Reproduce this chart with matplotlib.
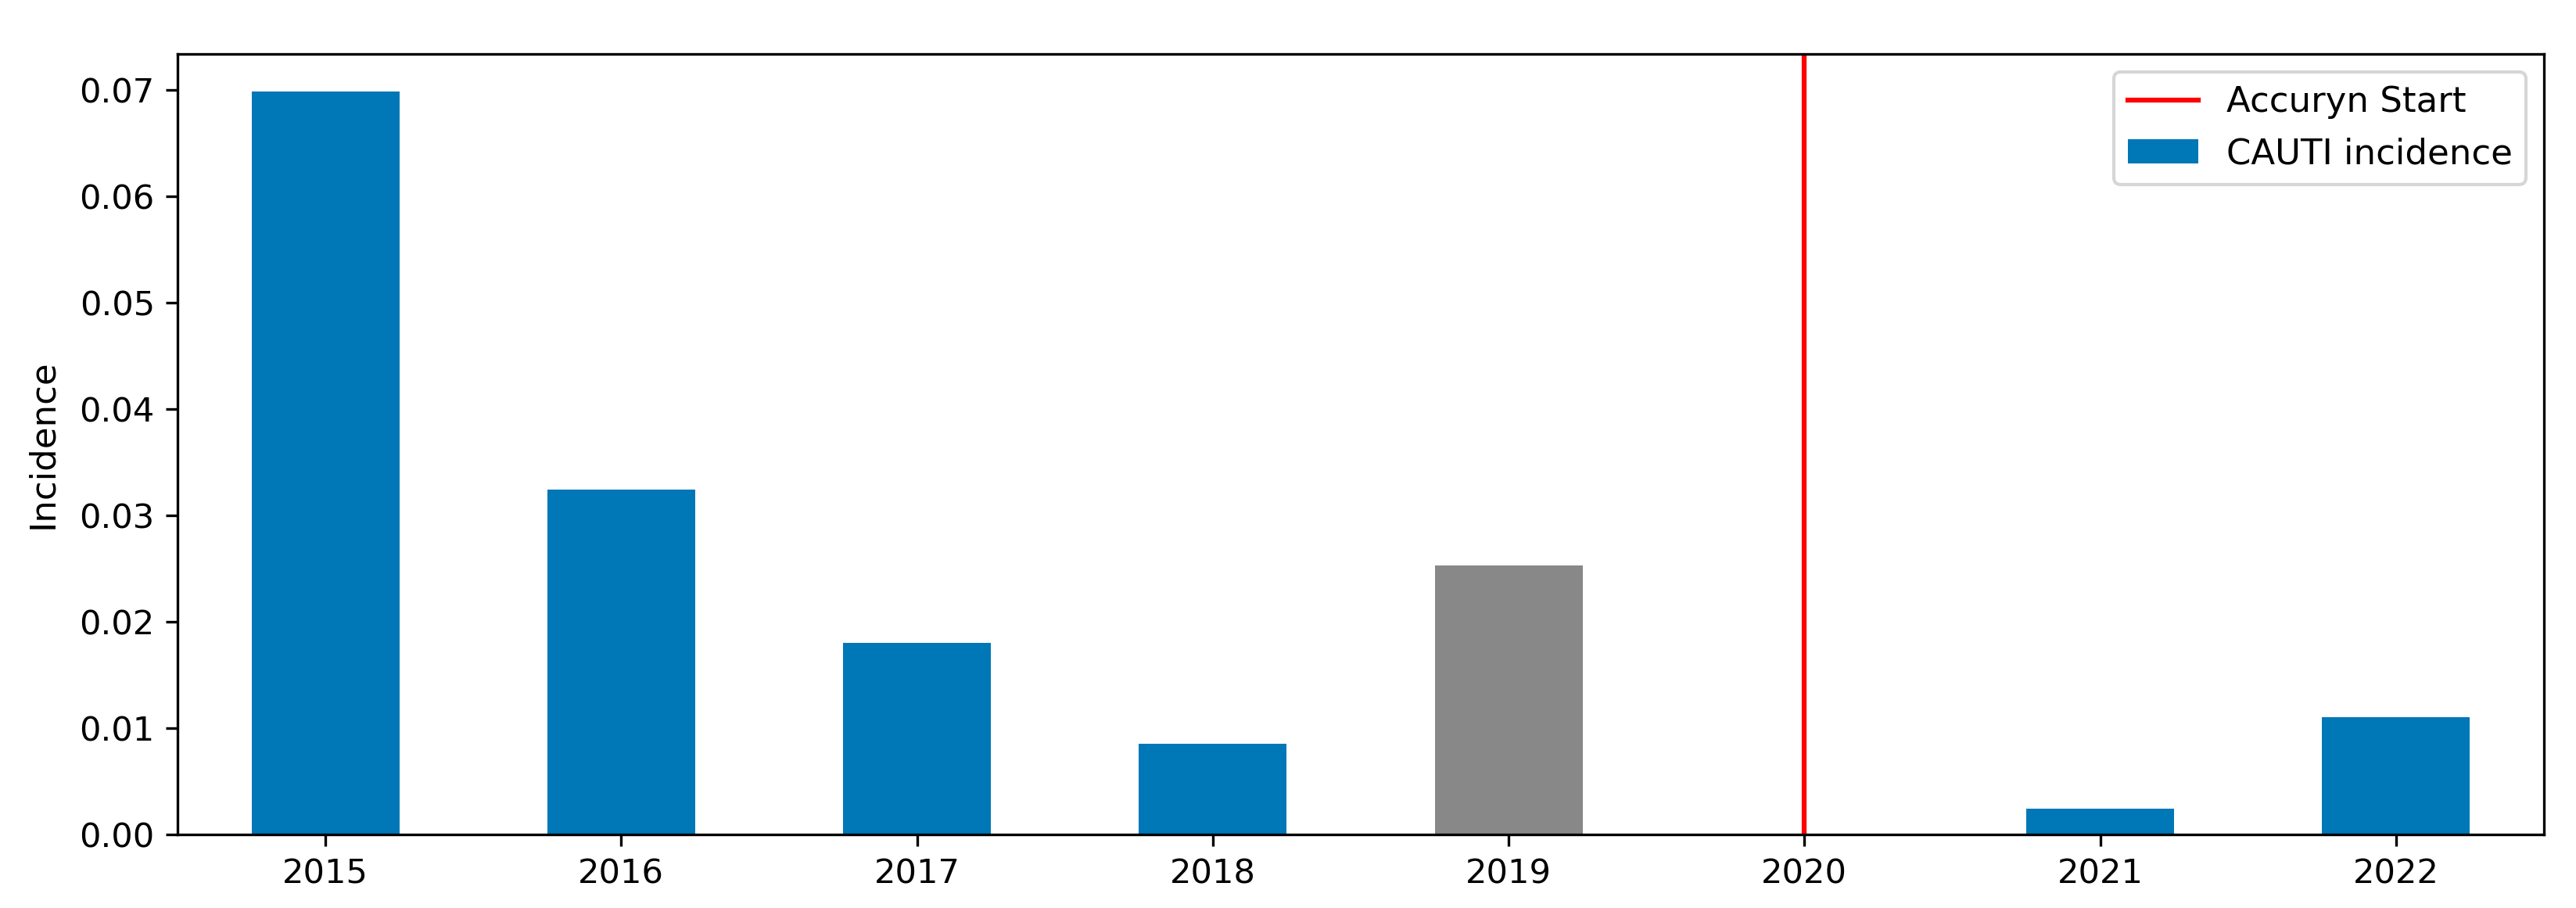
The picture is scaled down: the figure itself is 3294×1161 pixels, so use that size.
import matplotlib
matplotlib.use("Agg")
import matplotlib.pyplot as plt
import numpy as np

years = ["2015", "2016", "2017", "2018", "2019", "2020", "2021", "2022"]
incidence = [0.0699, 0.0324, 0.0180, 0.0085, 0.0253, 0.0, 0.0024, 0.0110]
bar_colors = ["#0077b6", "#0077b6", "#0077b6", "#0077b6", "#888888", "#0077b6", "#0077b6", "#0077b6"]
accuryn_start_index = 5

plt.rcParams["font.size"] = 10.4

fig = plt.figure(figsize=(3295 / 300, 1161 / 300), dpi=300)
ax = fig.add_axes([227 / 3295, 1 - 1067 / 1161, (3253 - 227) / 3295, (1067 - 69) / 1161])

x = np.arange(len(years))
ax.axvline(accuryn_start_index, color="red", linewidth=1.5, label="Accuryn Start")
ax.bar(x, incidence, width=0.5, color=bar_colors, label="CAUTI incidence")
ax.set_xticks(x)
ax.set_xticklabels(years, rotation=0)
ax.set_xlim(-0.5, len(years) - 0.5)
ax.set_ylim(0, max(incidence) * 1.05)
ax.set_ylabel("Incidence", fontsize=10.8, labelpad=6)
ax.legend(loc="upper right", fontsize=10.8)

fig.savefig("out.png", dpi=300)
